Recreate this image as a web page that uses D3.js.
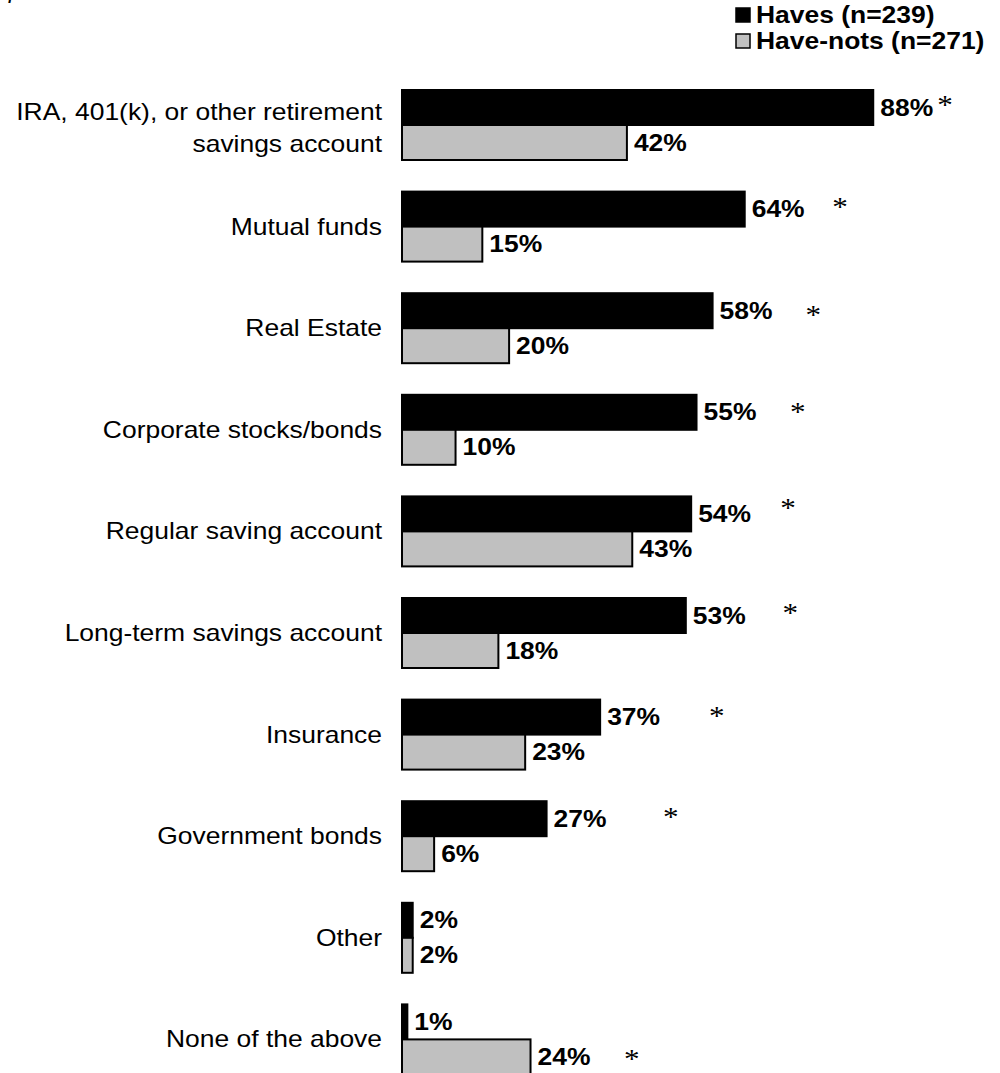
<!DOCTYPE html>
<html>
<head>
<meta charset="utf-8">
<script src="https://cdn.jsdelivr.net/npm/d3@7/dist/d3.min.js"></script>
<style>
  html, body { margin: 0; padding: 0; background: #fff; }
  svg { display: block; }
</style>
</head>
<body>
<div id="chart"></div>
<script>
// Share of respondents holding each kind of savings / investment
const categories = [
  ["IRA, 401(k), or other retirement", "savings account"],
  ["Mutual funds"],
  ["Real Estate"],
  ["Corporate stocks/bonds"],
  ["Regular saving account"],
  ["Long-term savings account"],
  ["Insurance"],
  ["Government bonds"],
  ["Other"],
  ["None of the above"]
];
const haves    = [88, 64, 58, 55, 54, 53, 37, 27, 2, 1];
const haveNots = [42, 15, 20, 10, 43, 18, 23, 6, 2, 24];
const seriesNames = ["Haves (n=239)", "Have-nots (n=271)"];
// Statistically significant differences: category index and the series row the mark sits on
const significant = [
  { cat: 0, row: 0 }, { cat: 1, row: 0 }, { cat: 2, row: 0 }, { cat: 3, row: 0 },
  { cat: 4, row: 0 }, { cat: 5, row: 0 }, { cat: 6, row: 0 }, { cat: 7, row: 0 },
  { cat: 9, row: 1 }
];

// ---- layout ----
const W = 1000, H = 1073;
const SX = 1.15;                // horizontal text stretch
const FONT = "'Liberation Sans', Arial, Helvetica, sans-serif";
const SERIF = "'Liberation Serif', 'Times New Roman', serif";
const colors = ["#000000", "#c0c0c0"];
// star placement (in axis percent units) and vertical nudge, per significant mark
const starLayout = [
  [101.4, -7], [81.8, -6], [76.8, 0], [73.9, -4], [72.1, -10],
  [72.5, -7], [58.8, -5], [50.2, -6], [42.9, -2]
];

const svg = d3.select("#chart").append("svg")
  .attr("width", W).attr("height", H);

const x = d3.scaleLinear().domain([0, 100]).range([402, 937.5]);
const y = d3.scaleBand().domain(d3.range(categories.length)).range([90, 90 + 101.6 * categories.length]);
const rowH = 35;
const row = d3.scaleBand().domain([0, 1]).range([0, rowH * 2]);

const series = [haves, haveNots];

function stretchedText(sel, tx, ty) {
  return sel.attr("transform", `translate(${tx},${ty}) scale(${SX},1)`);
}

// caption line running off the top edge
stretchedText(svg.append("text"), 8, -2)
  .attr("font-family", SERIF).attr("font-style", "italic")
  .attr("font-size", 22).attr("fill", "#000")
  .text("for retirement");

// bars
const groups = svg.selectAll("g.cat").data(categories).join("g")
  .attr("class", "cat")
  .attr("transform", (d, i) => `translate(0,${y(i)})`);

series.forEach((vals, s) => {
  groups.append("rect")
    .attr("x", x(0))
    .attr("y", row(s))
    .attr("width", (d, i) => x(vals[i]) - x(0))
    .attr("height", row.bandwidth())
    .attr("fill", colors[s])
    .attr("stroke", "#000")
    .attr("stroke-width", 2);

  groups.each(function (d, i) {
    stretchedText(d3.select(this).append("text"), x(vals[i]) + 7, row(s) + row.bandwidth() / 2 + 8)
      .attr("font-family", FONT).attr("font-weight", "bold")
      .attr("font-size", 23).attr("fill", "#000")
      .text(vals[i] + "%");
  });
});

// category labels
groups.each(function (lines) {
  const g = d3.select(this);
  const mid = rowH;
  const offs = lines.length === 1 ? [8] : [-5.5, 26.5];
  lines.forEach((ln, k) => {
    stretchedText(g.append("text"), 382, mid + offs[k])
      .attr("text-anchor", "end")
      .attr("font-family", FONT).attr("font-size", 23).attr("fill", "#000")
      .text(ln);
  });
});

// significance stars
significant.forEach((sg, k) => {
  const [at, lift] = starLayout[k];
  const cy = y(sg.cat) + row(sg.row) + row.bandwidth() / 2 + lift;
  stretchedText(svg.append("text"), x(at), cy + 13)
    .attr("text-anchor", "middle")
    .attr("font-family", SERIF).attr("font-size", 27).attr("fill", "#000")
    .text("*");
});

// legend
const legend = svg.append("g");
seriesNames.forEach((name, s) => {
  const ly = 8 + s * 26;
  legend.append("rect")
    .attr("x", 736).attr("y", ly).attr("width", 14).attr("height", 14)
    .attr("fill", colors[s]).attr("stroke", "#000").attr("stroke-width", 1.5);
  stretchedText(legend.append("text"), 756, ly + 15)
    .attr("font-family", FONT).attr("font-weight", "bold")
    .attr("font-size", 23).attr("fill", "#000")
    .text(name);
});
</script>
</body>
</html>
